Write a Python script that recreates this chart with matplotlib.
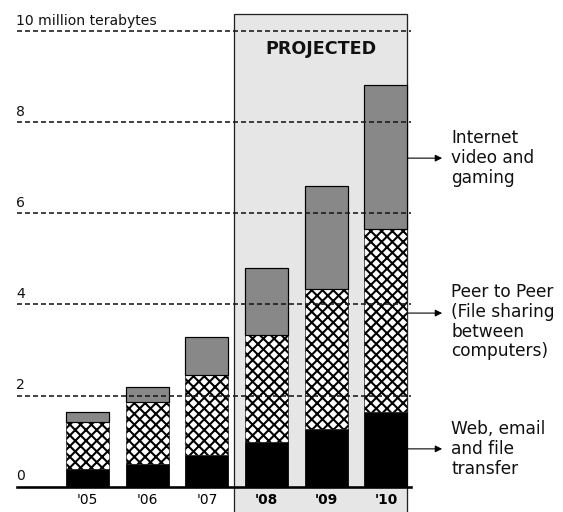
import numpy as np
import matplotlib
matplotlib.use("Agg")
import matplotlib.pyplot as plt
from matplotlib.patches import Rectangle

# Internet traffic by type, millions of terabytes per year
years = ["'05", "'06", "'07", "'08", "'09", "'10"]
web_email_file = [0.38, 0.50, 0.70, 0.97, 1.27, 1.63]
peer_to_peer = [1.05, 1.35, 1.75, 2.36, 3.07, 4.03]
video_gaming = [0.21, 0.34, 0.84, 1.46, 2.26, 3.15]
projected = [False, False, False, True, True, True]

y_ticks = [0, 2, 4, 6, 8, 10]
y_tick_labels = ["0", "2", "4", "6", "8", "10 million terabytes"]

series_labels = ["Internet\nvideo and\ngaming",
                 "Peer to Peer\n(File sharing\nbetween\ncomputers)",
                 "Web, email\nand file\ntransfer"]

DPI = 129
W, H = 563, 512
plt.rcParams["font.family"] = ["DejaVu Sans"]
plt.rcParams["hatch.linewidth"] = 1.15

def px(v):
    # pixel length -> points
    return v * 72.0 / DPI

fig = plt.figure(figsize=(W / DPI, H / DPI), dpi=DPI)
ax = fig.add_axes([17 / W, (H - 486.7) / H, (411 - 17) / W, (486.7 - 31) / H])
ax.set_xlim(-1.181, 5.419)
ax.set_ylim(0, 10)

x = np.arange(len(years))
web = np.array(web_email_file)
p2p = np.array(peer_to_peer)
vid = np.array(video_gaming)
bw = 0.72

# shaded "projected" region
proj_idx = x[np.array(projected)]
box_left = proj_idx.min() - 0.54
box_right = proj_idx.max() + bw / 2
ax.add_patch(Rectangle((box_left, -0.6), box_right - box_left, 10.97,
                       facecolor="#e6e6e6", edgecolor="#222222",
                       linewidth=px(1.3), clip_on=False, zorder=0))
ax.text((box_left + box_right) / 2, 9.6, "PROJECTED", ha="center", va="center",
        fontsize=px(17.5), fontweight="bold", color="#111111", zorder=5)

# stacked bars
ax.bar(x, web, width=bw, color="black", edgecolor="black",
       linewidth=px(0.8), zorder=2)
ax.bar(x, p2p, width=bw, bottom=web, color="white", edgecolor="black",
       hatch="xxxx", linewidth=px(0.6), zorder=2)
ax.bar(x, vid, width=bw, bottom=web + p2p, color="#888888", edgecolor="black",
       linewidth=px(1.2), zorder=2)

# dashed reference lines, drawn over the bars
for t in y_ticks[1:]:
    ax.axhline(t, color="#1a1a1a", linewidth=px(1.6),
               linestyle=(0, (px(5) / px(1.6), px(3) / px(1.6))), zorder=3,
               clip_on=False)

# y labels sit just above their lines
for t, lab in zip(y_ticks, y_tick_labels):
    ax.annotate(lab, xy=(0, t), xycoords=("axes fraction", "data"),
                xytext=(px(-1), px(6.5)), textcoords="offset points",
                ha="left", va="baseline", fontsize=px(14), color="#111111")

# x labels
ax.set_xticks(x)
ax.set_xticklabels(years, fontsize=px(13.8))
for lab, proj in zip(ax.get_xticklabels(), projected):
    if proj:
        lab.set_fontweight("bold")
ax.tick_params(axis="x", length=0, pad=px(6))
ax.tick_params(axis="y", left=False, labelleft=False)

for s in ["top", "right", "left"]:
    ax.spines[s].set_visible(False)
ax.spines["bottom"].set_linewidth(px(2.6))
ax.spines["bottom"].set_zorder(4)

# series call-outs on the right
arrow_y = [7.21, 3.81, 0.83]
text_y = [7.21, 3.62, 0.83]
x_arrow_end = 5.94
x_text = 6.09
for lab, ya, yt in zip(series_labels, arrow_y, text_y):
    ax.annotate("", xy=(x_arrow_end, ya), xytext=(box_right, ya),
                arrowprops=dict(arrowstyle="-|>", color="black", lw=px(1.1),
                                mutation_scale=px(14), shrinkA=0, shrinkB=0),
                annotation_clip=False)
    ax.text(x_text, yt, lab, ha="left", va="center", fontsize=px(17),
            color="#111111", linespacing=1.12, clip_on=False)

fig.savefig("out.png", dpi=DPI)
